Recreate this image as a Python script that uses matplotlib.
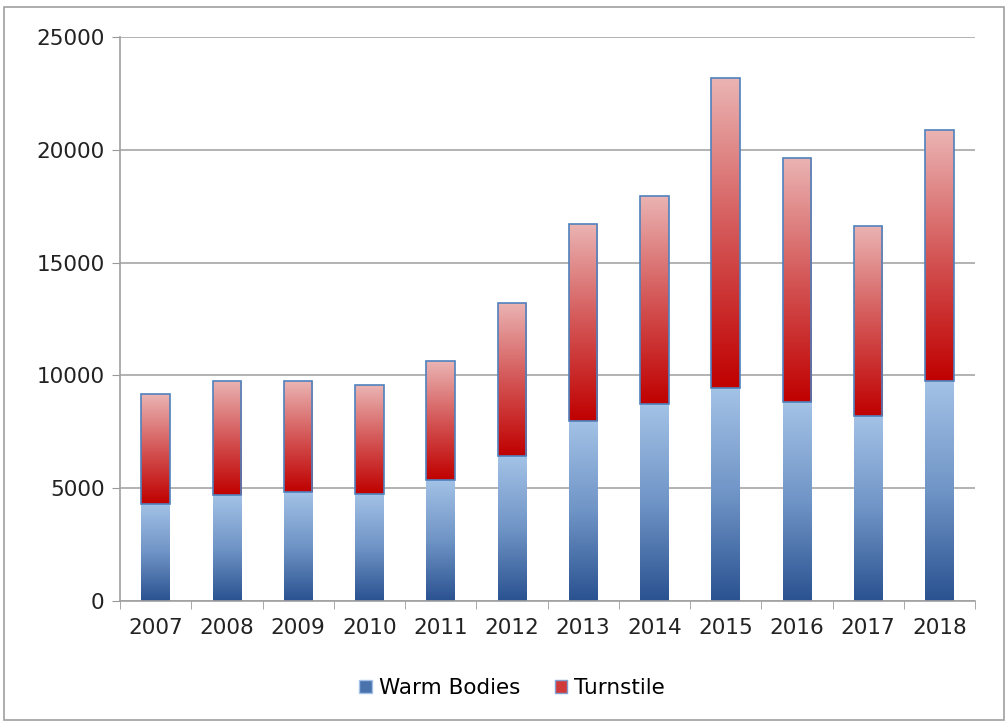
import numpy as np
import matplotlib
matplotlib.use("Agg")
import matplotlib.pyplot as plt
from matplotlib.colors import LinearSegmentedColormap
from matplotlib.patches import Patch, Rectangle

years = ["2007", "2008", "2009", "2010", "2011", "2012", "2013", "2014", "2015", "2016", "2017", "2018"]
warm_bodies = [4310, 4680, 4850, 4750, 5380, 6410, 7990, 8720, 9430, 8800, 8180, 9750]
totals = [9170, 9750, 9750, 9580, 10640, 13200, 16730, 17960, 23170, 19640, 16640, 20870]
turnstile = [t - w for t, w in zip(totals, warm_bodies)]

plt.rcParams['font.family'] = ['DejaVu Sans']

fig = plt.figure(figsize=(10.08, 7.23), dpi=100)
# outer frame
fig.patches.append(Rectangle((0.004, 0.004), 0.992, 0.986, transform=fig.transFigure,
                             fill=False, edgecolor='#a0a0a0', linewidth=1.2))
ax = fig.add_axes([120/1008, 1 - 601/723, (975-120)/1008, (601-37)/723])

x = np.arange(len(years))
w = 0.4
blue_cmap = LinearSegmentedColormap.from_list('b', ['#2a5290', '#6f94c6', '#a3c2e6'])
red_cmap = LinearSegmentedColormap.from_list('r', ['#c00000', '#d45656', '#eab4b3'])
grad = np.linspace(0, 1, 256).reshape(-1, 1)

b1 = ax.bar(x, warm_bodies, w, color='none', edgecolor='none', zorder=3)
b2 = ax.bar(x, turnstile, w, bottom=warm_bodies, color='none', edgecolor='#4f81bd',
            linewidth=1.2, zorder=4)

for bars, cmap in ((b1, blue_cmap), (b2, red_cmap)):
    for p in bars:
        x0, y0 = p.get_x(), p.get_y()
        ww, hh = p.get_width(), p.get_height()
        im = ax.imshow(grad, cmap=cmap, origin='lower', aspect='auto',
                       extent=(x0, x0 + ww, y0, y0 + hh), zorder=2.5)
        im.set_clip_path(p)

ax.set_xlim(-0.5, len(years) - 0.5)
ax.set_ylim(0, 25000)
ax.set_yticks(range(0, 25001, 5000))
ax.set_xticks(x)
ax.set_xticklabels(years)
ax.set_xticks(np.arange(-0.5, len(years), 1), minor=True)
ax.tick_params(axis='x', which='major', length=0, pad=12, labelsize=15.5, colors='#222222')
ax.tick_params(axis='x', which='minor', length=6, color='#999999', direction='out')
ax.tick_params(axis='y', length=6, color='#999999', labelsize=15.5, pad=5, labelcolor='#222222')
ax.yaxis.grid(True, color='#a6a6a6', linewidth=1.2, zorder=0)
ax.set_axisbelow(True)
for s in ('top', 'right'):
    ax.spines[s].set_visible(False)
for s in ('left', 'bottom'):
    ax.spines[s].set_color('#a0a0a0')
    ax.spines[s].set_linewidth(1.2)

handles = [Patch(facecolor='#4a73ad', edgecolor='#a3c2e6', label='Warm Bodies'),
           Patch(facecolor='#d13a3a', edgecolor='#7fa0d0', label='Turnstile')]
fig.legend(handles=handles, loc='center', bbox_to_anchor=(512/1008, 1 - 688/723), ncol=2,
           frameon=False, fontsize=15.5, handlelength=0.6, handleheight=0.6,
           handletextpad=0.3, columnspacing=1.6)

fig.savefig('out.png', dpi=100)
